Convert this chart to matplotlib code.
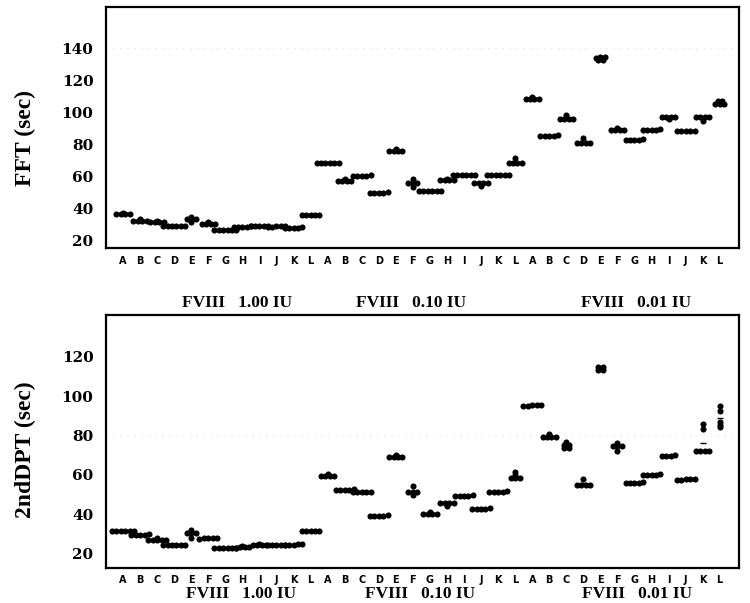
import matplotlib
matplotlib.use("Agg")
import matplotlib.pyplot as plt
import numpy as np

# ---------------- data ----------------
letters = list("ABCDEFGHIJKL")
doses = ["1.00", "0.10", "0.01"]
group_titles = ["FVIII   1.00 IU", "FVIII   0.10 IU", "FVIII   0.01 IU"]

# FFT (sec), replicate values per sample A..L
fft_1_00 = [[36, 36, 37, 36, 36], [32, 32, 33, 32, 32], [31, 31, 32, 31, 31],
            [29, 29, 29, 29, 29, 29], [33, 33, 34.5, 33, 31.5], [30, 30, 30, 31, 30],
            [26.5, 26.5, 26.5, 26.5, 26.5, 26.5], [28, 28, 28.5, 28, 28],
            [28.5, 28.5, 28.5, 28.5, 28.5], [28.5, 28, 28.5, 28.5, 28],
            [27.5, 27.5, 27.5, 28, 27.5], [35.5, 35.5, 35.5, 35.5, 35.5]]
fft_0_10 = [[68.5, 68.5, 68.5, 68.5, 68.5, 68.5], [57, 57, 58, 57, 57], [60, 60, 60.5, 60, 60],
            [49.5, 49.5, 50, 49.5, 49.5], [76, 76, 77, 76, 76], [55.5, 55.5, 58, 55.5, 53.5],
            [50.5, 50.5, 50.5, 50.5, 50.5, 50.5], [57.5, 57.5, 58.5, 57.5, 57.5],
            [60.5, 60.5, 60.5, 60.5, 60.5, 60.5], [55.5, 55.5, 54, 55.5, 55.5],
            [60.5, 60.5, 60.5, 60.5, 60.5, 60.5], [68.5, 68.5, 71.5, 68.5, 68.5]]
fft_0_01 = [[108.5, 108.5, 109.5, 108.5, 108.5], [85, 85, 85.5, 85, 85], [95.5, 95.5, 98, 95.5, 95.5],
            [81, 81, 84, 81, 81], [134.5, 134.5, 133, 133, 134], [89, 89, 90, 89, 89],
            [82.5, 82.5, 83, 82.5, 82.5], [89, 89, 89.5, 89, 89], [97, 97, 97, 95.5, 97],
            [88, 88, 88, 88, 88], [97, 97, 94.5, 97, 97], [107, 107, 105, 105, 105]]

# 2ndDPT (sec)
dpt_1_00 = [[31.5, 31.5, 31.5, 31.5, 31.5, 31.5], [29.5, 30, 29.5, 29.5, 29.5],
            [27, 27, 27, 27, 27, 28], [24, 24, 24, 24, 24, 24], [30.5, 30.5, 32, 30.5, 28],
            [28, 28, 28, 27.5, 28], [22.5, 22.5, 22.5, 22.5, 22.5, 22.5], [22.5, 23, 23, 23.5, 23],
            [24, 24, 25, 24, 24], [24, 24, 24, 24, 24], [24, 24, 24, 24.5, 24.5],
            [31.5, 31.5, 31.5, 31.5, 31.5]]
dpt_0_10 = [[59.5, 59.5, 60.5, 59.5, 59.5], [52, 52, 52.5, 52, 52], [51, 51, 51, 51, 51],
            [39, 39, 39.5, 39, 39], [69, 69, 70, 69, 69], [51, 51, 54, 51, 49.5],
            [40, 40, 41, 40, 40], [45.5, 45.5, 44, 45.5, 45.5], [49, 49, 49.5, 49, 49],
            [42.5, 42.5, 43, 42.5, 42.5], [51, 51, 51.5, 51, 51], [58.5, 58.5, 61.5, 60, 58.5]]
dpt_0_01 = [[95.5, 95.5, 95.5, 95, 95], [79, 79, 80.5, 79, 79], [76.5, 75, 75, 73.5, 73.5],
            [55, 55, 58, 55, 55], [115, 115, 113, 113], [74.5, 74.5, 76, 74.5, 72],
            [56, 56, 56.5, 56, 56], [60, 60, 60, 60.5, 60], [69.5, 69.5, 70, 69.5],
            [58, 58, 58, 57.5, 57.5], [72, 72, 72, 72, 83, 86], [95, 92.5, 87, 85.5, 84]]

fft_groups = [fft_1_00, fft_0_10, fft_0_01]
dpt_groups = [dpt_1_00, dpt_0_10, dpt_0_01]

# ---------------- layout helpers ----------------
def swarm(values, center, spacing=0.26, tol=0.8):
    vals = sorted(values)
    bins = []
    for v in vals:
        if bins and abs(v - bins[-1][0]) < tol:
            bins[-1].append(v)
        else:
            bins.append([v])
    xs, ys = [], []
    for b in bins:
        n = len(b)
        offs = (np.arange(n) - (n - 1) / 2.0) * spacing
        xs.extend(center + offs)
        ys.extend(b)
    return xs, ys


W, H = 750, 603
fig = plt.figure(figsize=(W / 100, H / 100), dpi=100)
fig.patch.set_facecolor("white")

def px_axes(left, top, right, bottom):
    return fig.add_axes([left / W, 1 - bottom / H, (right - left) / W, (bottom - top) / H])

ax1 = px_axes(106, 7, 739, 248)
ax2 = px_axes(106, 315, 739, 567.5)

tick_labels = letters * 3

def draw_panel(ax, groups, ylim, yticks):
    pos = 0
    for dose_groups in groups:
        for vals in dose_groups:
            xs, ys = swarm(vals, pos)
            ax.plot([pos], [np.mean(vals)], marker="_", color="black", ms=5, mew=1.0,
                    ls="none", zorder=2)
            ax.plot(xs, ys, "o", color="black", ms=4.4, mew=0, ls="none", zorder=3)
            pos += 1
    ax.set_xlim(-1.0, 36.13)
    ax.set_ylim(*ylim)
    ax.set_yticks(yticks)
    ax.set_yticklabels([str(t) for t in yticks], fontfamily="DejaVu Serif",
                       fontweight="bold", fontsize=11)
    ax.set_xticks(range(36))
    ax.set_xticklabels(tick_labels, fontfamily="DejaVu Sans", fontweight="bold",
                       fontsize=7)
    ax.tick_params(axis="both", length=0)
    ax.tick_params(axis="y", pad=9)
    ax.tick_params(axis="x", pad=5.5)
    for s in ax.spines.values():
        s.set_linewidth(1.6)
        s.set_color("black")

draw_panel(ax1, fft_groups, (15.0, 165.9), [20, 40, 60, 80, 100, 120, 140])
draw_panel(ax2, dpt_groups, (12.8, 141.2), [20, 40, 60, 80, 100, 120])

# faint dotted guide lines
ax1.axhline(140, color="#e6e6e6", lw=1, ls=(0, (1, 4)), zorder=0)
ax2.axhline(80, color="#ececec", lw=1, ls=(0, (1, 4)), zorder=0)

# y axis titles
fig.text(25 / W, 1 - 138 / H, "FFT (sec)", rotation=90, ha="center", va="center",
         fontfamily="Liberation Serif", fontweight="bold", fontsize=17)
fig.text(25 / W, 1 - 450 / H, "2ndDPT (sec)", rotation=90, ha="center", va="center",
         fontfamily="Liberation Serif", fontweight="bold", fontsize=17)

# group labels
top_x = [237, 411, 636]
bot_x = [241, 420, 637]
for t, x in zip(group_titles, top_x):
    fig.text(x / W, 1 - 303 / H, t, ha="center", va="center",
             fontfamily="Liberation Serif", fontweight="bold", fontsize=12.5)
for t, x in zip(group_titles, bot_x):
    fig.text(x / W, 1 - 594 / H, t, ha="center", va="center",
             fontfamily="Liberation Serif", fontweight="bold", fontsize=12.5)

fig.savefig("out.png", dpi=100, facecolor="white")
